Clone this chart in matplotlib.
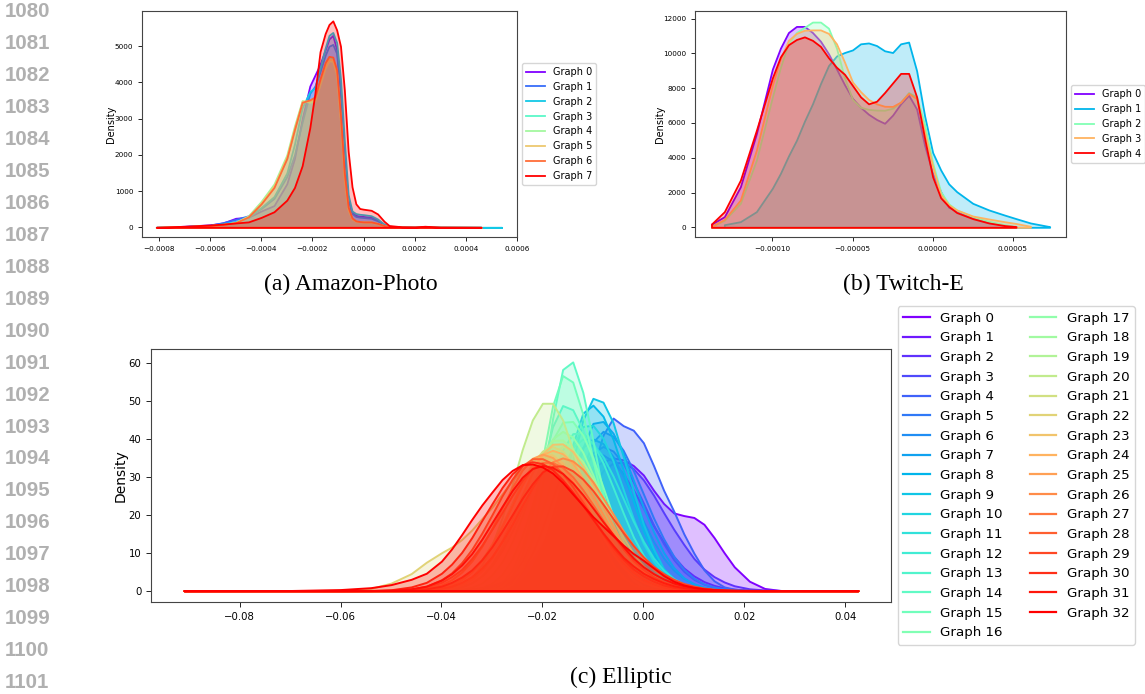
import numpy as np
import matplotlib
matplotlib.use("Agg")
import matplotlib.pyplot as plt
from matplotlib.lines import Line2D
from matplotlib.ticker import FuncFormatter

nan = np.nan

# ---------------- (a) Amazon-Photo  (x in units of 1e-4) ----------------
amazon_x = [-8.1, -7.0, -6.0, -5.5, -5.0, -4.5, -4.0, -3.5, -3.0, -2.7, -2.4, -2.1, -1.9, -1.7,
            -1.5, -1.35, -1.2, -1.05, -0.9, -0.75, -0.6, -0.45, -0.3, -0.15, 0.0, 0.3, 0.55,
            0.8, 1.0, 1.5, 2.0, 2.4, 3.0, 4.6, 5.4]
amazon_g0 = [0, 30, 70, 120, 250, 280, 450, 600, 1200, 1900, 3000, 3900, 4200, 4500, 4900, 5200, 5300,
             4900, 3700, 1900, 750, 420, 330, 310, 300, 280, 200, 80, 30, 10, 5, 8, 3, 0, nan]
amazon_g1 = [0, 25, 60, 130, 220, 320, 520, 800, 1400, 2000, 2900, 3700, 3900, 4300, 4750, 5000, 5050,
             4800, 3600, 1900, 700, 380, 300, 280, 270, 250, 180, 70, 25, 8, 5, 10, 3, 0, nan]
amazon_g2 = [0, 20, 50, 100, 160, 280, 550, 850, 1500, 2300, 3300, 3750, 3850, 4400, 4950, 5300, 5380,
             5100, 4100, 2400, 900, 450, 380, 360, 350, 320, 230, 90, 30, 10, 5, 10, 3, 0, 0]
amazon_g3 = [0, 20, 50, 80, 130, 300, 700, 1150, 1900, 2700, 3450, 3500, 3550, 4000, 4500, 4700, 4650,
             4300, 3000, 1400, 500, 250, 180, 160, 150, 150, 110, 50, 20, 5, 3, 5, 2, 0, nan]
amazon_g4 = [0, 20, 50, 80, 140, 320, 720, 1200, 2000, 2800, 3500, 3450, 3500, 3950, 4400, 4600, 4580,
             4200, 2900, 1300, 480, 230, 170, 150, 140, 140, 100, 45, 18, 5, 3, 5, 2, 0, nan]
amazon_g5 = [0, 20, 50, 80, 130, 300, 680, 1150, 1950, 2750, 3480, 3500, 3550, 4050, 4450, 4650, 4620,
             4250, 2950, 1350, 500, 240, 170, 155, 150, 145, 105, 45, 18, 5, 3, 5, 2, 0, nan]
amazon_g6 = [0, 20, 50, 80, 130, 290, 650, 1100, 1900, 2700, 3450, 3520, 3600, 4100, 4550, 4720, 4700,
             4350, 3100, 1500, 560, 260, 180, 160, 150, 150, 110, 50, 20, 5, 3, 5, 2, 0, nan]
amazon_g7 = [0, 30, 65, 90, 120, 150, 275, 430, 750, 1100, 1700, 2750, 3700, 4850, 5350, 5600, 5700,
             5450, 5000, 3800, 2100, 1120, 650, 520, 500, 470, 370, 170, 50, 15, 10, 30, 5, 0, nan]
amazon_xticks = [-0.0008, -0.0006, -0.0004, -0.0002, 0.0, 0.0002, 0.0004, 0.0006]
amazon_yticks = [0, 1000, 2000, 3000, 4000, 5000]

# ---------------- (b) Twitch-E  (x in units of 1e-5) ----------------
twitch_x = [-13.8, -13.0, -12.0, -11.0, -10.0, -9.5, -9.0, -8.5, -8.0, -7.5, -7.0, -6.5, -6.0, -5.5,
            -5.0, -4.5, -4.0, -3.5, -3.0, -2.5, -2.0, -1.5, -1.0, -0.5, 0.0, 0.5, 1.0, 1.5, 2.5,
            3.5, 4.5, 5.2, 6.1, 7.3]
twitch_g0 = [190, 610, 2330, 5390, 9100, 10300, 11200, 11550, 11550, 11200, 10700, 9980, 9100, 8200,
             7400, 6900, 6500, 6200, 5980, 6450, 7100, 7600, 6800, 4700, 3100, 2050, 1150, 950, 550,
             300, 110, 30, nan, nan]
twitch_g1 = [nan, 150, 325, 900, 2250, 3100, 4100, 5000, 6100, 7100, 8260, 9300, 9850, 10050,
             10200, 10550, 10600, 10450, 10150, 10050, 10550, 10650, 9000, 6400, 4300, 3300, 2500, 2050, 1380,
             1000, 700, 500, 250, 40]
twitch_g2 = [60, 400, 1380, 3860, 7500, 9200, 10600, 11200, 11500, 11800, 11800, 11450, 10300, 8600,
             7350, 6900, 6780, 6740, 6730, 6850, 7200, 7750, 7500, 5900, 3700, 2050, 1350, 1000, 610,
             350, 150, 60, nan, nan]
twitch_g3 = [60, 450, 1570, 4440, 8200, 9700, 10750, 11150, 11330, 11350, 11350, 11150, 10550, 9500,
             8350, 7800, 7350, 7100, 6960, 6950, 7200, 7700, 7400, 5500, 3500, 1900, 1300, 1000, 650,
             480, 320, 220, 60, nan]
twitch_g4 = [190, 900, 2710, 5580, 8600, 9800, 10500, 10800, 10950, 10750, 10400, 9750, 9200, 8800,
             8150, 7500, 7100, 7250, 7750, 8300, 8850, 8850, 7500, 5100, 2900, 1700, 1200, 850, 500,
             250, 100, 40, nan, nan]
twitch_xticks = [-0.0001, -0.00005, 0.0, 0.00005]
twitch_yticks = [0, 2000, 4000, 6000, 8000, 10000, 12000]

# ---------------- (c) Elliptic  (x in units of 1e-3) ----------------
ell_x = [-91, -70, -60, -54, -50, -46, -43, -40, -38,
         -36, -34, -32, -30, -28, -26, -24, -22, -20, -18, -16, -14, -12, -10, -8, -6, -4, -2,
         0, 2, 4, 6, 8, 10, 12, 14, 16, 18,
         21, 24, 27.5, 32, 42.5]
ell_g0 = [0, 0, 0, 0, 0, 0, 0, 0, 0.1,
          0.2, 0.4, 0.8, 1.3, 2.2, 3.4, 5, 8, 12, 18, 22.5, 26.5, 30, 32.5, 34, 35, 34.5, 33,
          30.5, 26.5, 23, 20.5, 19.8, 19.3, 17.5, 14, 10, 6.3,
          2.5, 0.6, 0, 0, 0]
ell_g1 = [0, 0, 0, 0, 0, 0, 0, 0, 0,
          0.02, 0.05, 0.15, 0.4, 0.9, 1.9, 3.6, 6.5, 10.5, 15.6, 21.8, 28, 32.8, 35.6, 35.8, 34.1, 30.8, 26.6,
          21.8, 17.1, 12.9, 9.0, 6.0, 3.9, 2.4, 1.4, 0.75, 0.4,
          0.1, 0, 0, 0, 0]
ell_g2 = [0, 0, 0, 0, 0, 0, 0, 0, 0,
          0.02, 0.05, 0.1, 0.25, 0.55, 1.1, 2.0, 3.5, 5.7, 9.1, 13, 18, 23, 27.8, 31.6, 33.7, 33.8, 32.2,
          29.2, 25.2, 20.6, 16.2, 12.2, 8.5, 5.7, 3.7, 2.3, 1.3,
          0.5, 0.2, 0.05, 0, 0]
ell_g3 = [0, 0, 0, 0, 0, 0, 0, 0, 0,
          0, 0.02, 0.1, 0.3, 0.65, 1.4, 2.8, 5.1, 8.8, 13.6, 20.1, 26.2, 32.3, 36.4, 38, 36.8, 33.5, 28.7,
          23.1, 17.4, 12.4, 8.2, 5.1, 3.0, 1.7, 0.9, 0.4, 0.2,
          0.05, 0, 0, 0, 0]
ell_g4 = [0, 0, 0, 0, 0, 0, 0, 0, 0,
          0, 0, 0, 0.02, 0.05, 0.15, 0.3, 0.8, 1.8, 3.5, 7, 13, 22, 32, 41, 45.5, 43.5, 42.3,
          39, 33, 26.5, 21, 15, 9.9, 5.5, 2.6, 1.0, 0.4,
          0.1, 0, 0, 0, 0]
ell_g5 = [0, 0, 0, 0, 0, 0, 0, 0, 0,
          0, 0, 0, 0, 0.05, 0.2, 0.6, 1.6, 3.8, 8.0, 14.8, 23.2, 32.2, 39.2, 42, 40.7, 37, 31.7,
          25.5, 19.2, 13.7, 9.1, 5.7, 3.3, 1.8, 1.0, 0.5, 0.2,
          0.05, 0, 0, 0, 0]
ell_g6 = [0, 0, 0, 0, 0, 0, 0, 0, 0,
          0, 0, 0.05, 0.15, 0.45, 1.1, 2.6, 5.4, 9.9, 16.5, 24.3, 32, 37.8, 40, 38.8, 35.3, 30.2, 24.3,
          18.3, 13, 8.6, 5.4, 3.2, 1.8, 0.9, 0.45, 0.2, 0.05,
          0, 0, 0, 0, 0]
ell_g7 = [0, 0, 0, 0, 0, 0, 0, 0, 0,
          0, 0, 0, 0, 0.03, 0.15, 0.5, 1.5, 4.0, 8.9, 16.9, 27.3, 37.6, 44.1, 44.6, 41.5, 36.2, 29.2,
          21.9, 15.6, 10.1, 6.1, 3.4, 1.8, 0.9, 0.4, 0.15, 0.05,
          0, 0, 0, 0, 0]
ell_g8 = [0, 0, 0, 0, 0, 0, 0, 0, 0,
          0, 0, 0, 0.02, 0.1, 0.4, 1.3, 3.5, 8.0, 15.9, 26.8, 38.4, 46.8, 48.9, 46, 39.9, 31.8, 23.6,
          15.9, 9.8, 5.7, 3.0, 1.5, 0.7, 0.3, 0.1, 0.05, 0,
          0, 0, 0, 0, 0]
ell_g9 = [0, 0, 0, 0, 0, 0, 0, 0, 0,
          0, 0, 0, 0, 0.05, 0.2, 0.8, 2.2, 5.6, 12.0, 21.9, 34, 45, 50.7, 49.7, 44.3, 35.4, 26.3,
          17.5, 11.0, 5.8, 3.0, 1.4, 0.6, 0.25, 0.1, 0.03, 0,
          0, 0, 0, 0, 0]
ell_g10 = [0, 0, 0, 0, 0, 0, 0, 0, 0,
           0, 0, 0.02, 0.1, 0.4, 1.0, 2.6, 5.9, 11.4, 19.6, 29, 38.1, 43.3, 43.6, 40.2, 34.2, 26.7, 19,
           12.4, 7.8, 4.4, 2.3, 1.1, 0.5, 0.2, 0.05, 0, 0,
           0, 0, 0, 0, 0]
ell_g11 = [0, 0, 0, 0, 0, 0, 0, 0, 0,
           0, 0.02, 0.15, 0.45, 1.1, 2.6, 5.4, 9.9, 16.5, 24.3, 32, 37.8, 40, 38.8, 35.3, 30.2, 24.3, 18.3,
           13, 8.6, 5.4, 3.2, 1.8, 0.9, 0.45, 0.2, 0.05, 0,
           0, 0, 0, 0, 0]
ell_g12 = [0, 0, 0, 0, 0, 0, 0, 0, 0,
           0.02, 0.1, 0.3, 0.8, 1.8, 4.0, 7.8, 13.7, 21.3, 29.8, 37.1, 41.4, 41.6, 38.8, 33.7, 27.2, 20.5, 14.2,
           9.3, 5.7, 3.1, 1.7, 0.8, 0.4, 0.15, 0.05, 0, 0,
           0, 0, 0, 0, 0]
ell_g13 = [0, 0, 0, 0, 0, 0, 0, 0, 0,
           0, 0, 0.2, 0.7, 2.2, 5.4, 11.6, 21.1, 32.7, 43.2, 48.8, 47.7, 42.3, 34.2, 25.3, 16.9, 10.2, 5.6,
           2.8, 1.3, 0.5, 0.2, 0.1, 0, 0, 0, 0, 0,
           0, 0, 0, 0, 0]
ell_g14 = [0, 0, 0, 0, 0, 0, 0, 0, 0,
           0, 0, 0, 0.1, 0.45, 1.7, 5.5, 14, 28.1, 45.3, 58.3, 60.3, 52.3, 39.6, 25.7, 14.5, 7.0, 2.9,
           1.0, 0.35, 0.1, 0, 0, 0, 0, 0, 0, 0,
           0, 0, 0, 0, 0]
ell_g15 = [0, 0, 0, 0, 0, 0, 0, 0, 0,
           0, 0, 0, 0.3, 1.2, 3.8, 9.6, 20.1, 34.6, 48.7, 56.7, 55, 46.5, 34.6, 22.6, 12.8, 6.4, 2.9,
           1.1, 0.4, 0.1, 0, 0, 0, 0, 0, 0, 0,
           0, 0, 0, 0, 0]
ell_g16 = [0, 0, 0, 0, 0, 0, 0, 0, 0,
           0.05, 0.3, 0.8, 2.0, 4.3, 8.4, 14.6, 22.7, 31.9, 39.7, 44.4, 44.6, 41, 35, 27.3, 19.6, 13, 8.0,
           4.5, 2.3, 1.1, 0.5, 0.2, 0.05, 0, 0, 0, 0,
           0, 0, 0, 0, 0]
ell_g17 = [0, 0, 0, 0, 0, 0, 0, 0, 0.1,
           0.4, 0.9, 2.0, 4.2, 7.6, 12.9, 19.7, 27.5, 34.7, 40, 42, 40.5, 36.5, 30.5, 23.7, 17.3, 11.7, 7.3,
           4.3, 2.4, 1.2, 0.6, 0.25, 0.1, 0, 0, 0, 0,
           0, 0, 0, 0, 0]
ell_g18 = [0, 0, 0, 0, 0, 0, 0, 0.2, 0.45,
           1.0, 2.1, 4.0, 7.1, 11.6, 17.4, 24.3, 31.1, 36.5, 39.6, 39.7, 37.3, 32.9, 27.3, 21.2, 15.6, 10.7, 6.9,
           4.2, 2.4, 1.3, 0.65, 0.3, 0.15, 0.05, 0, 0, 0,
           0, 0, 0, 0, 0]
ell_g19 = [0, 0, 0, 0, 0, 0, 0, 0.2, 0.5,
           1.1, 2.1, 3.9, 6.6, 10.6, 15.7, 21.5, 27.6, 33, 36.6, 38, 37, 34, 29.5, 24.4, 19, 14.1, 9.8,
           6.5, 4.0, 2.4, 1.3, 0.7, 0.35, 0.15, 0.05, 0, 0,
           0, 0, 0, 0, 0]
ell_g20 = [0, 0, 0, 0, 0, 0, 0.05, 0.3, 0.7,
           1.6, 3.5, 6.8, 12, 19.2, 27.9, 37.2, 45, 49.4, 49.4, 45, 37.2, 27.9, 19.2, 12, 6.8, 3.5, 1.6,
           0.7, 0.3, 0.1, 0.03, 0, 0, 0, 0, 0, 0,
           0, 0, 0, 0, 0]
ell_g21 = [0, 0, 0, 0, 0, 0.1, 0.3, 0.9, 1.7,
           3.0, 5.1, 8.2, 12.4, 17.4, 23.1, 28.7, 33.5, 36.8, 38, 36.8, 33.5, 28.7, 23.1, 17.4, 12.4, 8.2, 5.1,
           3.0, 1.7, 0.9, 0.4, 0.2, 0.05, 0, 0, 0, 0,
           0, 0, 0, 0, 0]
ell_g22 = [0, 0.02, 0.1, 0.6, 2, 4.5, 7.5, 10, 11.5,
           13.5, 16, 19, 22, 25.5, 29, 32, 34.5, 35.8, 35.8, 33.6, 29.6, 24.6, 19.1, 14, 9.6, 6.2, 3.7,
           2.2, 1.2, 0.6, 0.3, 0.1, 0.05, 0, 0, 0, 0,
           0, 0, 0, 0, 0]
ell_g23 = [0, 0, 0, 0, 0, 0, 0.15, 0.35, 0.8,
           1.6, 3.0, 5.3, 8.7, 13.3, 19, 25.3, 31.2, 36, 38.6, 38.7, 36.7, 32.8, 27.8, 22.2, 17, 12.1, 8.3,
           5.3, 3.2, 1.8, 1.0, 0.5, 0.25, 0.1, 0.03, 0, 0,
           0, 0, 0, 0, 0]
ell_g24 = [0, 0, 0, 0, 0, 0.1, 0.25, 0.85, 1.6,
           2.9, 5.0, 8.0, 12, 16.9, 22.4, 27.9, 32.6, 35.9, 37, 36.1, 33.6, 29.6, 24.9, 20, 15.3, 11, 7.6,
           5.0, 3.1, 1.9, 1.0, 0.55, 0.3, 0.15, 0.05, 0, 0,
           0, 0, 0, 0, 0]
ell_g25 = [0, 0, 0, 0, 0.05, 0.2, 0.6, 1.6, 2.9,
           4.9, 7.8, 11.7, 16.5, 21.8, 27.2, 31.8, 34.9, 36, 35.1, 32.7, 28.8, 24.2, 19.4, 14.9, 10.7, 7.4, 4.9,
           3.0, 1.8, 1.0, 0.5, 0.3, 0.1, 0.05, 0, 0, 0,
           0, 0, 0, 0, 0]
ell_g26 = [0, 0, 0, 0, 0, 0.1, 0.2, 0.7, 1.2,
           2.2, 3.7, 6.0, 9.0, 13, 17.5, 22.5, 27.2, 31.3, 34, 35, 34.2, 32, 28.7, 24.5, 20.2, 15.8, 11.9,
           8.5, 5.8, 3.9, 2.4, 1.4, 0.8, 0.45, 0.25, 0.1, 0.05,
           0.02, 0, 0, 0, 0]
ell_g27 = [0, 0, 0, 0.02, 0.1, 0.4, 1.0, 2.2, 3.7,
           5.6, 8.5, 12, 16.2, 20.6, 25.1, 29.1, 32.2, 33.8, 33.8, 32.5, 30, 26.6, 22.7, 18.6, 14.6, 11, 8,
           5.6, 3.7, 2.4, 1.5, 0.9, 0.5, 0.3, 0.15, 0.08, 0.04,
           0.02, 0, 0, 0, 0]
ell_g28 = [0, 0, 0, 0.03, 0.1, 0.45, 1.2, 2.9, 4.7,
           7.4, 10.9, 15.2, 20, 25, 29.4, 32.9, 34.8, 34.8, 33.5, 30.9, 27.4, 23.3, 19.1, 15, 11.4, 8.3, 5.7,
           3.9, 2.5, 1.5, 0.9, 0.5, 0.3, 0.15, 0.07, 0.03, 0,
           0, 0, 0, 0, 0]
ell_g29 = [0, 0, 0, 0, 0.05, 0.2, 0.5, 1.2, 2.2,
           3.6, 5.5, 8.2, 11.6, 15.7, 20, 24.4, 28.2, 31.3, 32.8, 32.9, 31.6, 29.4, 26.4, 22.8, 19, 15.3, 11.9,
           8.9, 6.4, 4.5, 3.0, 1.9, 1.2, 0.7, 0.4, 0.2, 0.1,
           0.03, 0, 0, 0, 0]
ell_g30 = [0, 0, 0, 0.06, 0.25, 1.0, 2.2, 4.6, 7.0,
           10.1, 14, 18.5, 22.9, 27.2, 30.8, 33.2, 34, 33.5, 31.9, 29.2, 26, 22.5, 18.8, 15.2, 11.9, 8.8, 6.5,
           4.6, 3.2, 2.1, 1.3, 0.8, 0.5, 0.3, 0.15, 0.08, 0.04,
           0.02, 0, 0, 0, 0]
ell_g31 = [0, 0, 0, 0.03, 0.15, 0.5, 1.2, 2.8, 4.5,
           6.8, 9.8, 13.6, 17.9, 22.2, 26.4, 29.9, 32.2, 33, 32.5, 30.9, 28.4, 25.3, 21.8, 18.2, 14.8, 11.6, 8.6,
           6.3, 4.5, 3.1, 2.0, 1.3, 0.8, 0.5, 0.3, 0.15, 0.08,
           0.03, 0, 0, 0, 0]
ell_g32 = [0, 0.05, 0.3, 0.8, 1.6, 3.0, 4.6, 7.8, 11,
           14.8, 18.8, 22.6, 26, 29.3, 31.7, 33.2, 33.4, 32.6, 31, 28.5, 25.5, 22.5, 19.5, 17, 14.5, 12, 9.8,
           8, 6, 4, 2.5, 1.5, 0.9, 0.5, 0.3, 0.2, 0.15,
           0.1, 0.08, 0.05, 0.03, 0]
ell_xticks = [-0.08, -0.06, -0.04, -0.02, 0.0, 0.02, 0.04]
ell_yticks = [0, 10, 20, 30, 40, 50, 60]

line_numbers = list(range(1080, 1102))
captions = ["(a) Amazon-Photo", "(b) Twitch-E", "(c) Elliptic"]

amazon = [amazon_g0, amazon_g1, amazon_g2, amazon_g3, amazon_g4, amazon_g5, amazon_g6, amazon_g7]
twitch = [twitch_g0, twitch_g1, twitch_g2, twitch_g3, twitch_g4]
elliptic = [ell_g0, ell_g1, ell_g2, ell_g3, ell_g4, ell_g5, ell_g6, ell_g7, ell_g8, ell_g9, ell_g10,
            ell_g11, ell_g12, ell_g13, ell_g14, ell_g15, ell_g16, ell_g17, ell_g18, ell_g19, ell_g20,
            ell_g21, ell_g22, ell_g23, ell_g24, ell_g25, ell_g26, ell_g27, ell_g28, ell_g29, ell_g30,
            ell_g31, ell_g32]


def kde_panel(ax, xs, scale, curves, lw):
    colors = plt.cm.rainbow(np.linspace(0, 1, len(curves)))
    x = np.asarray(xs, dtype=float) * scale
    for ys, c in zip(curves, colors):
        y = np.asarray(ys, dtype=float)
        ok = ~np.isnan(y)
        ax.fill_between(x[ok], y[ok], facecolor=(c[0], c[1], c[2], 0.25),
                        edgecolor=c, linewidth=lw)
    return colors


def fmt(decimals):
    return FuncFormatter(lambda v, p: f"{v:.{decimals}f}".replace("-", "\u2212"))


def finish(ax, xticks, yticks, dec, tick_fs, lab_fs, leg_fs, colors, lw, tick_len, pad, ncol=1):
    ax.set_xticks(xticks)
    ax.set_yticks(yticks)
    ax.xaxis.set_major_formatter(fmt(dec))
    ax.tick_params(labelsize=tick_fs, length=tick_len, width=0.6)
    ax.set_ylabel("Density", fontsize=lab_fs, labelpad=pad)
    for s in ax.spines.values():
        s.set_color("#444444")
        s.set_linewidth(0.8)
    handles = [Line2D([], [], color=c, lw=lw) for c in colors]
    labels = [f"Graph {i}" for i in range(len(colors))]
    ax.legend(handles, labels, loc="center left", bbox_to_anchor=(1.0, 0.5),
              fontsize=leg_fs, ncol=ncol)


fig = plt.figure(figsize=(11.45, 6.94), dpi=100)
W, H = 1145.0, 694.0


def add_axes(x0, y0, x1, y1):
    return fig.add_axes([x0 / W, 1 - y1 / H, (x1 - x0) / W, (y1 - y0) / H])


ax_a = add_axes(142, 11, 517, 237)
cols = kde_panel(ax_a, amazon_x, 1e-4, amazon, 1.3)
ax_a.set_xlim(-0.000866, 0.000600)
ax_a.set_ylim(-267, 5972)
finish(ax_a, amazon_xticks, amazon_yticks, 4, 5.2, 7, 7, cols, 1.3, 2.8, -1.0)

ax_b = add_axes(695, 11, 1066, 237)
cols = kde_panel(ax_b, twitch_x, 1e-5, twitch, 1.3)
ax_b.set_xlim(-0.0001483, 0.0000832)
ax_b.set_ylim(-557, 12437)
finish(ax_b, twitch_xticks, twitch_yticks, 5, 5.2, 7, 7, cols, 1.3, 2.8, -1.0)

ax_c = add_axes(151, 349, 891, 602)
cols = kde_panel(ax_c, ell_x, 1e-3, elliptic, 1.4)
ax_c.set_xlim(-0.09754, 0.04905)
ax_c.set_ylim(-2.98, 63.7)
finish(ax_c, ell_xticks, ell_yticks, 2, 7.3, 10, 9.6, cols, 1.6, 3.5, 0.6, ncol=2)

# margin line numbers
for i, n in enumerate(line_numbers):
    fig.text(5 / W, 1 - (11.7 + 31.95 * i) / H, str(n), ha="left", va="center",
             fontsize=14.8, fontweight="bold", color="#b0b0b0", family="Liberation Sans")

# sub-captions
cap_pos = [(351, 284), (903.5, 284), (621, 677)]
for (cx, cy), t in zip(cap_pos, captions):
    fig.text(cx / W, 1 - cy / H, t, ha="center", va="center", fontsize=17,
             family="Liberation Serif")

fig.savefig("out.png", dpi=100)
